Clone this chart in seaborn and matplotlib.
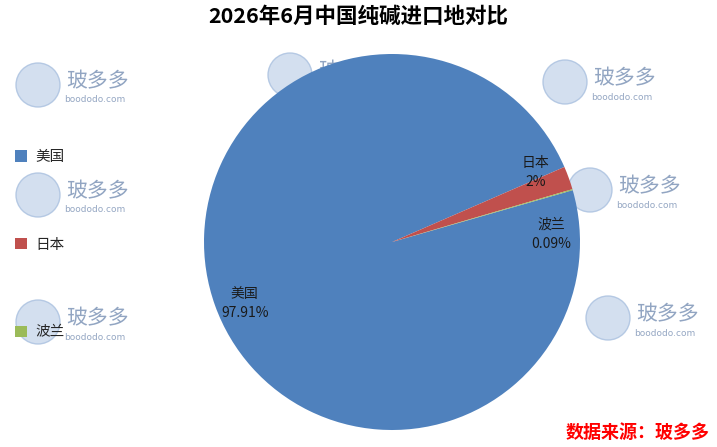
import numpy as np
import matplotlib
matplotlib.use('Agg')
import matplotlib.pyplot as plt
import seaborn as sns
from matplotlib.patches import Patch, Ellipse

# data
countries = ['美国', '日本', '波兰']
shares = [97.91, 2.0, 0.09]
pct_labels = ['97.91%', '2%', '0.09%']
colors = ['#4F81BD', '#C0504D', '#9BBB59']

sns.set_theme(style='white')
plt.rcParams['font.family'] = ['Noto Sans CJK SC', 'DejaVu Sans']

W, H = 717, 447
fig = plt.figure(figsize=(W / 100, H / 100), dpi=100)
fig.patch.set_facecolor('white')

# faint watermarks, drawn behind the pie
def watermark(x, y):
    fig.patches.append(Ellipse((x / W, 1 - y / H), 44 / W, 44 / H, transform=fig.transFigure,
                               facecolor='#c9d8ec', edgecolor='#a9c0df', lw=1, alpha=0.8,
                               zorder=-2))
    fig.text((x + 28) / W, 1 - (y - 4) / H, '玻多多', fontsize=15, color='#7f96b8',
             va='center', ha='left', zorder=-2, alpha=0.85)
    fig.text((x + 26) / W, 1 - (y + 15) / H, 'boododo.com', fontsize=6.5, color='#95a7c3',
             va='center', ha='left', zorder=-2, family='DejaVu Sans')

for wx, wy in [(38, 85), (38, 195), (38, 322), (290, 75), (565, 82), (590, 190), (608, 318)]:
    watermark(wx, wy)

# pie axes
cx, cy, r = 392, 242, 188
ax = fig.add_axes([(cx - r) / W, (H - cy - r) / H, 2 * r / W, 2 * r / H])
ax.set_facecolor('none')
wedges, texts = ax.pie(shares, colors=colors, startangle=16, counterclock=False,
                       labels=[f'{c}\n{p}' for c, p in zip(countries, pct_labels)],
                       labeldistance=0.85,
                       wedgeprops=dict(linewidth=0),
                       textprops=dict(fontsize=10, color='#1a1a1a', linespacing=1.45))
ax.set_xlim(-1, 1)
ax.set_ylim(-1, 1)
ax.set_aspect('auto')
ax.axis('off')

# nudge labels so the small slices do not collide
offsets = {0: 3, 1: 6, 2: -13.5}
for i, t in enumerate(texts):
    w = wedges[i]
    ang = (w.theta1 + w.theta2) / 2 + offsets.get(i, 0)
    t.set_position((0.85 * np.cos(np.radians(ang)), 0.85 * np.sin(np.radians(ang))))
    t.set_ha('center')
    t.set_va('center')

fig.text(0.5, 1 - 16 / H, '2026年6月中国纯碱进口地对比', ha='center', va='center',
         fontsize=15.5, fontweight='bold', color='black')

# legend on the left
handles = [Patch(facecolor=c, edgecolor='none') for c in colors]
fig.legend(handles, countries, loc='upper left', bbox_to_anchor=(2 / W, 1 - 137 / H),
           frameon=False, fontsize=10.5, handlelength=0.8, handleheight=0.8,
           handletextpad=0.6, labelspacing=5.05)

fig.text(1 - 7 / W, 1 - 432 / H, '数据来源：玻多多', ha='right', va='center', fontsize=13,
         color='#ff0000', fontweight='bold', style='italic')

fig.savefig('out.png', dpi=100)
